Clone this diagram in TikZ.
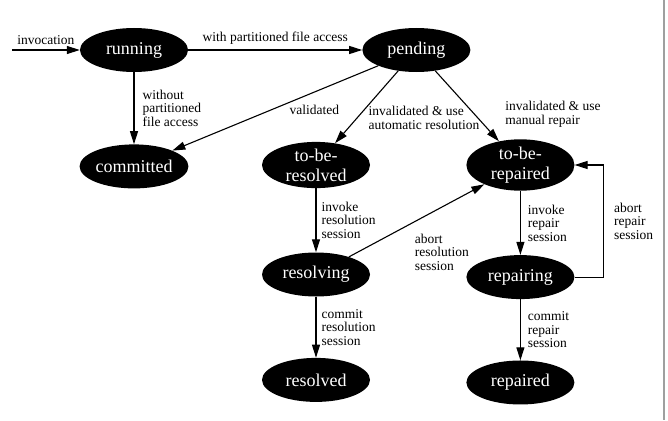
\documentclass[tikz,border=0pt]{standalone}
\usepackage{fontspec}
\setmainfont{Liberation Serif}
\usetikzlibrary{arrows.meta,positioning,shapes.geometric}

\begin{document}
\begin{tikzpicture}[x=1pt,y=-1pt,node distance=64pt and 96pt,>={Triangle[length=13pt,width=8pt]},
  state/.style={ellipse,fill=black,text=white,inner sep=0pt,minimum width=108pt,minimum height=44pt,align=center,font=\fontsize{18}{20}\selectfont},
  lbl/.style={font=\fontsize{13.5}{13.5}\selectfont,align=left,inner sep=1pt},
  edge/.style={->,line width=1.1pt}]
  \useasboundingbox (0,0) rectangle (668,420);
  \node[state] (run) at (134,50) {running};
  \node[state,right=174pt of run] (pend) {pending};
  \node[state,below=72pt of run] (comm) {committed};
  \node[state] (tbres) at (316,165) {to-be-\\resolved};
  \node[state,right=96pt of tbres] (tbrep) {to-be-\\repaired};
  \node[state,below=of tbres] (resing) {resolving};
  \node[state,below=of tbrep] (reping) {repairing};
  \node[state,below=61pt of resing] (resd) {resolved};
  \node[state,below=61pt of reping] (repd) {repaired};
  \coordinate (start) at (12,50);
  \draw[edge] (start) -- node[lbl,above=4pt] {invocation} (run);
  \draw[edge] (run) -- node[lbl,above=4pt] {with partitioned file access} (pend);
  \draw[edge] (run) -- node[lbl,right=7pt] {without\\partitioned\\file access} (comm);
  \draw[edge] (pend) -- node[lbl,pos=0.31,below=12pt] {validated} (comm);
  \draw[edge] (pend) -- node[lbl,pos=0.65,right=10pt] {invalidated \& use\\automatic resolution} (tbres);
  \draw[edge] (pend) -- node[lbl,pos=0.62,right=29pt] {invalidated \& use\\manual repair} (tbrep);
  \draw[edge] (tbres) -- node[lbl,right=4pt] {invoke\\resolution\\session} (resing);
  \draw[edge] (tbrep) -- node[lbl,right=6pt] {invoke\\repair\\session} (reping);
  \draw[edge] (resing) -- node[lbl,pos=0.41,anchor=north west,xshift=9pt,yshift=-5pt] {abort\\resolution\\session} (tbrep);
  \draw[edge] (reping.east) -- ++(29,0) |- node[lbl,pos=0.25,right=9pt] {abort\\repair\\session} (tbrep.east);
  \draw[edge] (resing) -- node[lbl,right=4pt] {commit\\resolution\\session} (resd);
  \draw[edge] (reping) -- node[lbl,right=6pt] {commit\\repair\\session} (repd);
  % page edge
  \draw[gray!75,line width=1.5pt] (664,0) -- (664,420);
\end{tikzpicture}
\end{document}
